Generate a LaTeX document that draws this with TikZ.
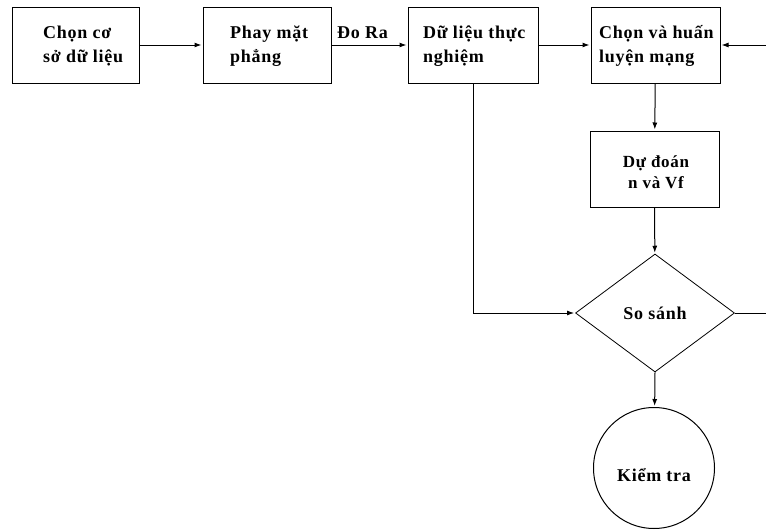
\documentclass[tikz,border=0pt]{standalone}
\usepackage{fontspec}
\setmainfont{Liberation Serif}[LetterSpace=4]
\usetikzlibrary{arrows.meta,shapes.geometric}
\begin{document}
\begin{tikzpicture}[x=1pt,y=-1pt,
  box/.style={draw,line width=1pt,minimum width=#1,minimum height=76pt,inner sep=0pt},
  lbl/.style={font=\fontsize{18}{24}\selectfont\bfseries,align=left,inner sep=0pt},
  conn/.style={line width=1pt,-{Latex[length=7pt,width=5pt]},shorten >=1pt},
  plain/.style={line width=1pt}]
\useasboundingbox (0,0) rectangle (766,530);
\fill[white] (0,0) rectangle (766,530);
% boxes
\node[box=127pt] (b1) at (75.5,45) {};
\node[box=128pt] (b2) at (267,45) {};
\node[box=130pt] (b3) at (473,45) {};
\node[box=129pt] (b4) at (655.5,45) {};
\node[box=129pt] (b5) at (654.5,169) {};
\node[draw,line width=0.8pt,diamond,minimum width=159pt,minimum height=118pt,inner sep=0pt,aspect=1.35] (d) at (655,313) {};
\node[draw,line width=1pt,circle,minimum size=121pt,inner sep=0pt] (c) at (654,468) {};
% texts
\node[lbl,anchor=base west] (t1) at (43,62) {Chọn cơ\\sở dữ liệu};
\node[lbl,anchor=base west] (t2) at (230,62) {Phay mặt\\phẳng};
\node[lbl,anchor=base west] (t3) at (423,62) {Dữ liệu thực\\nghiệm};
\node[lbl,anchor=base west] (t4) at (599,62) {Chọn và huấn\\luyện mạng};
\node[lbl,align=center,font=\fontsize{17}{21}\selectfont\bfseries,anchor=base] (t5) at (656,188) {Dự đoán\\n và Vf};
\node[lbl,anchor=base] (t6) at (655,319) {So sánh};
\node[lbl,anchor=base] (t7) at (654,481) {Kiểm tra};
\node[lbl,anchor=base west] (t8) at (337,38) {Đo Ra};
% connectors
\coordinate (rin) at (766,45);
\coordinate (rout) at (766,313);
\coordinate (corner) at (473,313);
\draw[conn] (b1) -- (b2);
\draw[conn] (b2) -- (b3);
\draw[conn] (b3) -- (b4);
\draw[conn] (rin) -- (b4);
\draw[conn] (b4) -- (b5);
\draw[conn] (b5) -- (d);
\draw[conn] (b3.south) -- (corner) -- (d.west);
\draw[plain] (d.east) -- (rout);
\draw[conn] (d.south) -- (c);
\end{tikzpicture}
\end{document}
